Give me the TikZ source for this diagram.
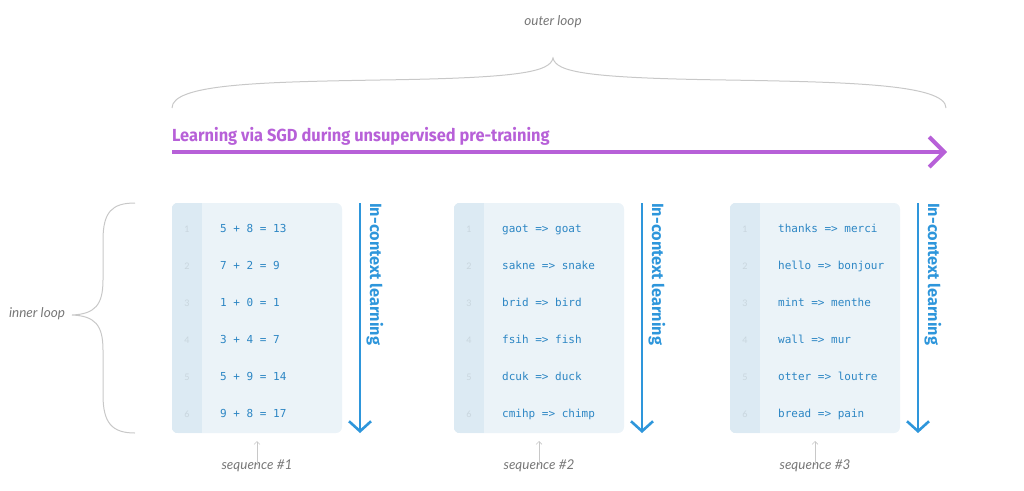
\documentclass[tikz,border=0pt]{standalone}
\usepackage{fontspec}
\setmainfont{Lato}
\setmonofont{DejaVu Sans Mono}
\newfontfamily\headfont{Fira Sans}
\usetikzlibrary{arrows.meta}
\definecolor{purp}{HTML}{B760D8}
\definecolor{arrblue}{HTML}{2E96DB}
\definecolor{codeblue}{HTML}{2C86C4}
\definecolor{boxfill}{HTML}{EBF3F8}
\definecolor{stripfill}{HTML}{DCEAF3}
\definecolor{numgray}{HTML}{C9D6DE}
\definecolor{labgray}{HTML}{777777}
\definecolor{bracegray}{HTML}{C8C8C8}
\tikzset{
  boxnode/.style={fill=boxfill, rounded corners=6pt, minimum width=170pt, minimum height=230pt, inner sep=0pt, draw=none},
  codetext/.style={anchor=west, inner sep=0pt, text height=8pt, text depth=2pt, text=codeblue, font=\ttfamily\fontsize{11}{13}\selectfont},
  numtext/.style={inner sep=0pt, text=numgray, font=\fontsize{9}{11}\selectfont},
  icl/.style={rotate=-90, anchor=west, inner sep=0pt, text=arrblue, font=\headfont\bfseries\fontsize{16.3}{18}\selectfont},
  iclarrow/.style={draw=arrblue, line width=2.6pt, -{Straight Barb[length=10pt,width=22pt,line width=2.6pt]}},
  seqlabel/.style={inner sep=0pt, text=labgray, font=\itshape\fontsize{13.5}{15}\selectfont},
  smallarrow/.style={draw=bracegray, line width=0.6pt, -{Straight Barb[length=3pt,width=6pt]}},
  bracestyle/.style={draw=bracegray, line width=1pt},
}
\newcommand\seqblock[4]{%
  \node[boxnode] (box#2) at (#1+85,318) {};
  \begin{scope}
    \clip[rounded corners=6pt] (box#2.south west) rectangle (box#2.north east);
    \fill[stripfill] (#1,203) rectangle (#1+30,433);
  \end{scope}
  \foreach \t [count=\i] in {#3} {
    \node[numtext] (num#2-\i) at (#1+15,{229+37*(\i-1)}) {\i};
    \node[codetext] (code#2-\i) at (#1+48,{229+37*(\i-1)}) {\t};
  }
  \coordinate (atop#2) at (#1+188,203);
  \coordinate (abot#2) at (#1+188,433);
  \draw[iclarrow] (atop#2) -- (abot#2);
  \node[icl] (icl#2) at (#1+203,203) {In-context learning};
  \node[seqlabel] (seq#2) at (#1+85,466) {sequence \##4};
  \coordinate (sa#2) at (#1+85,441);
  \draw[smallarrow] ([yshift=-5pt]seq#2.north) -- (sa#2);
}
\begin{document}
\begin{tikzpicture}[x=1pt,y=-1pt]
\useasboundingbox (0,0) rectangle (1024,490);
% outer loop
\node[seqlabel] (outer) at (553,22) {outer loop};
\draw[bracestyle] (172,108) .. controls (172,84) and (260,82) .. (380,80)
  .. controls (520,78) and (550,72) .. (553,58)
  .. controls (556,72) and (586,78) .. (726,80)
  .. controls (846,82) and (946,84) .. (946,108);
% SGD arrow
\node[anchor=south west, inner sep=0pt, text=purp, font=\headfont\bfseries\fontsize{17.5}{20}\selectfont] (sgd) at (172,146) {\scalebox{0.937}[1]{Learning via SGD during unsupervised pre-training}};
\coordinate (sgdL) at (172,152);
\coordinate (sgdR) at (947,152);
\draw[draw=purp, line width=4pt, -{Straight Barb[length=15pt,width=30pt,line width=4pt]}] (sgdL) -- (sgdR);
% inner loop
\node[seqlabel] (inner) at (37,314) {inner loop};
\draw[bracestyle] (135,203) .. controls (112,203) and (103,212) .. (103,240)
  -- (103,280) .. controls (103,305) and (95,314) .. (72,315)
  .. controls (95,316) and (103,325) .. (103,350)
  -- (103,395) .. controls (103,423) and (112,433) .. (135,433);
\seqblock{172}{1}{5 + 8 = 13, 7 + 2 = 9, 1 + 0 = 1, 3 + 4 = 7, 5 + 9 = 14, 9 + 8 = 17}{1}
\seqblock{454}{2}{gaot => goat, sakne => snake, brid => bird, fsih => fish, dcuk => duck, cmihp => chimp}{2}
\seqblock{730}{3}{thanks => merci, hello => bonjour, mint => menthe, wall => mur, otter => loutre, bread => pain}{3}
\end{tikzpicture}
\end{document}
